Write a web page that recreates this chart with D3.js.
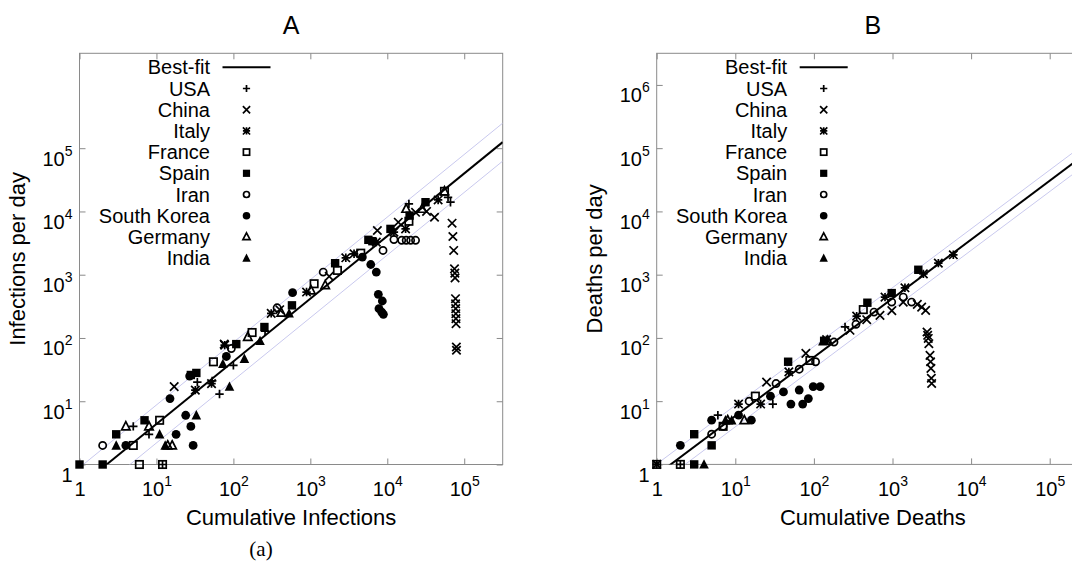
<!DOCTYPE html>
<html><head><meta charset="utf-8">
<script src="https://cdn.jsdelivr.net/npm/d3@7"></script>
<style>
body{margin:0;background:#fff}
svg text{font-family:"Liberation Sans",Arial,Helvetica,sans-serif;fill:#000}
</style>
</head><body>
<svg id="c" width="1072" height="562"></svg>
<script>
// ---------- data ----------
const countries = ["USA","China","Italy","France","Spain","Iran","South Korea","Germany","India"];
const symbolTypes = ["plus","cross","star","squareOpen","squareFilled","circleOpen","circleFilled","triangleOpen","triangleFilled"];
const xTicks = [1,1e1,1e2,1e3,1e4,1e5];
const yTicksA = [1,1e1,1e2,1e3,1e4,1e5];
const yTicksB = [1,1e1,1e2,1e3,1e4,1e5,1e6];
const panelTitles = ["A","B"];
const xLabels = ["Cumulative Infections","Cumulative Deaths"];
const yLabels = ["Infections per day","Deaths per day"];
// best-fit in log10 space: [slope, intercept, band half-width]
const fitA = [0.99, -0.349, 0.30];
const fitB = [0.93, -0.166, 0.17];

// Panel A: [cumulative infections, infections per day]
const usaA = [[5,4],[8,3],[12,1],[34,20],[53,21],[66,13],[100,37],[258,128],[19100,13200],[61600,16700],[66300,14000]];
const chinaA = [[17,17],[76,80],[400,280],[1760,940],[7430,5000],[13900,6760],[23300,9700],[32400,10000],[41100,8100],
  [69500,6520],[71200,4020],[73000,2420],[74700,1240],[75500,1060],[76000,890],[77000,418],[77200,347],[77500,291],[77800,242],[78000,202],[78300,168],[79000,72],[79300,64]];
const italyA = [[32,15],[52,19],[77,77],[310,245],[893,532],[2890,1850],[3700,2140],[7200,3270],[12200,4700],[17300,5300],[45800,15200]];
const franceA = [[5,2],[6,1],[11,5],[12,1],[55,42],[175,122],[1120,720],[2250,1170],[4520,2190],[19100,7000],[55400,20800]];
const spainA = [[1,1],[2,1],[3,3],[7,5],[28,26],[33,28],[109,80],[253,149],[577,328],[2100,1520],[5680,3560],[6400,3390],[11000,5300],[19500,8600],[31400,14000]];
const iranA = [[2,2],[94,68],[370,300],[1470,1100],[8800,2420],[12200,3600],[15400,3500],[17600,3500],[20100,3500],[23300,3500]];
const koreaA = [[4,2],[15,11],[18,3],[24,6],[28,4],[30,2],[27,25],[81,51],[588,520],[4740,1900],[6100,1450],[7200,1100],[7650,490],[8620,384],[7800,290],[8460,257],[8900,237]];
const germanyA = [[4,4],[8,4],[14,2],[16,2],[154,104],[420,250],[1020,565],[1560,680],[17600,11000],[28400,11000],[55400,20800]];
const indiaA = [[3,2],[11,3],[13,2],[33,6],[73,39],[89,17],[139,47],[222,90],[530,245]];

// Panel B: [cumulative deaths, deaths per day]
const usaB = [[2,1],[6,6],[30,9],[249,149]];
const chinaB = [[25,20],[79,57],[288,132],[470,194],[693,227],[980,270],[1370,368],[2070,339],[2350,307],[2640,272],
  [2750,124],[2800,110],[2850,98],[2900,81],[3000,53],[3050,42],[3080,33],[3120,23],[3150,19]];
const italyB = [[1,1],[11,9],[21,9],[48,29],[145,94],[350,221],[803,442],[1440,620],[2470,1030],[3830,1520],[5940,2060]];
const franceB = [[1,1],[2,1],[7,4],[18,12],[89,44],[425,280]];
const spainB = [[3,1],[3,3],[5,2],[47,42],[135,90],[479,360],[977,511],[2130,1195]];
const iranB = [[5,3],[7,4],[15,10],[33,19],[65,32],[105,42],[180,86],[343,164],[582,256],[977,368],[1370,442],[1750,368]];
const koreaB = [[2,2],[5,5],[11,6],[16,5],[28,12],[41,14],[51,9],[65,15],[72,9],[85,11],[98,17],[120,17]];
const germanyB = [[8,5],[13,5],[150,90]];
const indiaB = [[4,1],[7.5,5],[9,5],[130,88]];

const seriesA = [usaA,chinaA,italyA,franceA,spainA,iranA,koreaA,germanyA,indiaA];
const seriesB = [usaB,chinaB,italyB,franceB,spainB,iranB,koreaB,germanyB,indiaB];

// ---------- drawing ----------
const svg = d3.select("#c");
svg.append("rect").attr("width",1072).attr("height",562).attr("fill","#fff");

function drawSymbol(g, type, cx, cy, S){
  const sw = 1.7;
  if(type==="plus"){
    g.append("path").attr("d",`M${cx-S},${cy}H${cx+S}M${cx},${cy-S}V${cy+S}`).attr("stroke","#000").attr("stroke-width",sw).attr("fill","none");
  } else if(type==="cross"){
    g.append("path").attr("d",`M${cx-S},${cy-S}L${cx+S},${cy+S}M${cx-S},${cy+S}L${cx+S},${cy-S}`).attr("stroke","#000").attr("stroke-width",sw).attr("fill","none");
  } else if(type==="star"){
    g.append("path").attr("d",`M${cx-S},${cy}H${cx+S}M${cx},${cy-S}V${cy+S}M${cx-S},${cy-S}L${cx+S},${cy+S}M${cx-S},${cy+S}L${cx+S},${cy-S}`).attr("stroke","#000").attr("stroke-width",sw).attr("fill","none");
  } else if(type==="squareOpen"){
    g.append("rect").attr("x",cx-S+0.5).attr("y",cy-S+0.5).attr("width",2*S-1).attr("height",2*S-1).attr("stroke","#000").attr("stroke-width",sw).attr("fill","none");
  } else if(type==="squareFilled"){
    g.append("rect").attr("x",cx-S).attr("y",cy-S).attr("width",2*S).attr("height",2*S).attr("fill","#000");
  } else if(type==="circleOpen"){
    g.append("circle").attr("cx",cx).attr("cy",cy).attr("r",S-0.6).attr("stroke","#000").attr("stroke-width",sw).attr("fill","none");
  } else if(type==="circleFilled"){
    g.append("circle").attr("cx",cx).attr("cy",cy).attr("r",S+0.2).attr("fill","#000");
  } else if(type==="triangleOpen"){
    g.append("path").attr("d",`M${cx},${cy-S-0.5}L${cx+S},${cy+S-0.8}L${cx-S},${cy+S-0.8}Z`).attr("stroke","#000").attr("stroke-width",sw).attr("fill","none");
  } else if(type==="triangleFilled"){
    g.append("path").attr("d",`M${cx},${cy-S-1}L${cx+S+0.6},${cy+S}L${cx-S-0.6},${cy+S}Z`).attr("fill","#000");
  }
}

function supText(t, v){
  const e = Math.round(Math.log10(v));
  if(e===0){ t.append("tspan").text("1"); }
  else { t.append("tspan").text("10"); t.append("tspan").attr("dy",-10).attr("font-size",14).text(e); }
}

function drawPanel(cfg){
  const {left, top, right, bottom, series, yTicks, title, xlab, ylab, fit, id} = cfg;
  const x = d3.scaleLog().domain([1, Math.pow(10,5.5)]).range([left, right]);
  const y = d3.scaleLog().domain([1, Math.pow(10,6.5)]).range([bottom, top]);
  const g = svg.append("g");

  const clipId = "clip"+id;
  svg.append("clipPath").attr("id",clipId).append("rect")
    .attr("x",left).attr("y",top).attr("width",right-left).attr("height",bottom-top);

  // axes (ticks inward on all four sides)
  const axB = g.append("g").attr("transform",`translate(0,${bottom})`).call(d3.axisBottom(x).tickValues(xTicks).tickSize(-6).tickFormat(""));
  const axT = g.append("g").attr("transform",`translate(0,${top})`).call(d3.axisTop(x).tickValues(xTicks).tickSize(-6).tickFormat(""));
  const axL = g.append("g").attr("transform",`translate(${left},0)`).call(d3.axisLeft(y).tickValues(yTicks).tickSize(-6).tickFormat(""));
  const axR = g.append("g").attr("transform",`translate(${right},0)`).call(d3.axisRight(y).tickValues(yTicks).tickSize(-6).tickFormat(""));
  [axB,axT,axL,axR].forEach(a=>{ a.select(".domain").remove(); a.selectAll(".tick line").attr("stroke","#8a8a8a"); a.selectAll(".tick text").remove(); });

  axB.selectAll(".tick").each(function(d){
    const t = d3.select(this).append("text").attr("x",0).attr("y",31.5).attr("text-anchor","middle").attr("font-size",20);
    supText(t,d);
  });
  axL.selectAll(".tick").each(function(d){
    const t = d3.select(this).append("text").attr("x",-7).attr("y",17).attr("text-anchor","end").attr("font-size",20);
    supText(t,d);
  });

  // frame
  g.append("rect").attr("x",left).attr("y",top).attr("width",right-left).attr("height",bottom-top)
    .attr("fill","none").attr("stroke","#8a8a8a").attr("stroke-width",1);

  // fit and bands
  const plot = g.append("g").attr("clip-path",`url(#${clipId})`);
  const xs = [1, Math.pow(10,5.5)];
  const line = d3.line().x(d=>x(d[0])).y(d=>y(d[1]));
  const [a,b,w] = fit;
  [b+w, b-w].forEach(bb=>{
    plot.append("path").attr("d", line(xs.map(v=>[v, Math.pow(10, a*Math.log10(v)+bb)])))
      .attr("stroke","#c9c9ee").attr("stroke-width",1).attr("fill","none");
  });
  plot.append("path").attr("d", line(xs.map(v=>[v, Math.pow(10, a*Math.log10(v)+b)])))
    .attr("stroke","#000").attr("stroke-width",2).attr("fill","none");

  // points
  const pts = g.append("g");
  series.forEach((arr,i)=>{
    arr.forEach(p=>drawSymbol(pts, symbolTypes[i], x(p[0]), y(p[1]), 4.2));
  });

  // legend
  const lg = g.append("g");
  const row0 = 67.3, dy = 21.2;
  lg.append("text").attr("x",left+130.5).attr("y",row0+7).attr("text-anchor","end").attr("font-size",20).text("Best-fit");
  lg.append("line").attr("x1",left+143).attr("x2",left+191).attr("y1",row0).attr("y2",row0).attr("stroke","#000").attr("stroke-width",2);
  countries.forEach((c,i)=>{
    const yy = row0 + dy*(i+1);
    lg.append("text").attr("x",left+130.5).attr("y",yy+7).attr("text-anchor","end").attr("font-size",20).text(c);
    drawSymbol(lg, symbolTypes[i], left+167, yy, 3.6);
  });

  // titles
  const cx = (left + right)/2;
  svg.append("text").attr("x",cx).attr("y",34).attr("text-anchor","middle").attr("font-size",25).text(title);
  svg.append("text").attr("x",cx).attr("y",525).attr("text-anchor","middle").attr("font-size",22).text(xlab);
  svg.append("text").attr("transform",`translate(${left-55},${(top+bottom)/2}) rotate(-90)`).attr("text-anchor","middle").attr("font-size",22).text(ylab);
}

drawPanel({id:"A", left:79.5, top:53.3, right:502.7, bottom:464.5, series:seriesA, yTicks:yTicksA,
  title:panelTitles[0], xlab:xLabels[0], ylab:yLabels[0], fit:fitA});
drawPanel({id:"B", left:656.7, top:53.3, right:1089, bottom:464.4, series:seriesB, yTicks:yTicksB,
  title:panelTitles[1], xlab:xLabels[1], ylab:yLabels[1], fit:fitB});

svg.append("text").attr("x",261).attr("y",556).attr("text-anchor","middle")
  .attr("font-size",21).style("font-family",'"Liberation Serif","DejaVu Serif",serif').text("(a)");
</script>
</body></html>
